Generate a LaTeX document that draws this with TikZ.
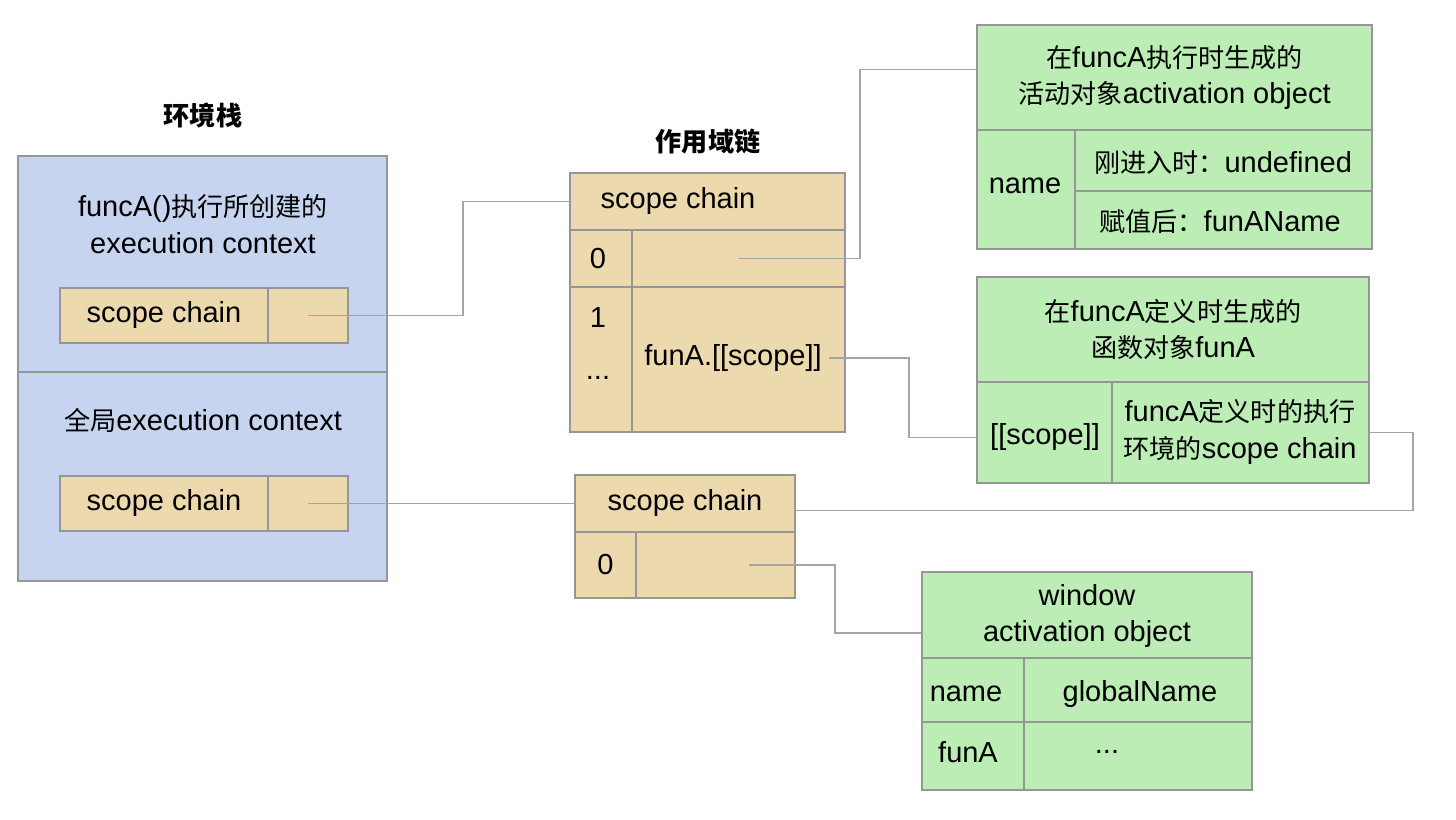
\documentclass[tikz,border=0pt]{standalone}
\usepackage{fontspec}
\setmainfont{Liberation Sans}
\newfontfamily\cjk[Scale=0.9]{Noto Sans CJK SC}
\usepackage{xcolor}
\usetikzlibrary{positioning,fit}
\definecolor{stackblue}{RGB}{198,212,240}
\definecolor{chaintan}{RGB}{237,217,174}
\definecolor{objgreen}{RGB}{187,237,181}
\definecolor{edgegray}{RGB}{150,150,150}
\definecolor{linkgray}{RGB}{165,165,165}

\begin{document}
\begin{tikzpicture}[x=0.02cm, y=-0.02cm,
        cell/.style={draw=edgegray, line width=0.8pt, inner sep=0pt},
        blue/.style={cell, fill=stackblue},
        tan/.style={cell, fill=chaintan},
        green/.style={cell, fill=objgreen},
        txt/.style={font=\fontsize{16.5}{21}\selectfont, align=center, inner sep=0pt},
        title/.style={txt, font=\fontsize{16.5}{21}\selectfont\bfseries},
        link/.style={draw=linkgray, line width=1pt}
      ]
      \useasboundingbox (0,0) rectangle (1456,820);

      \node[blue, fit={(18,156) (387,372)}] (ecA) {};
      \node[blue, fit={(18,372) (387,581)}] (ecG) {};
      \node[title] (stacktitle) at (203,116) {\cjk 环境栈};
      \node[txt] (ecAtext) at (203,224) {funcA(){\cjk 执行所创建的}\\execution context};
      \node[txt] (ecGtext) at (203,420) {{\cjk 全局}execution context};
      \node[tan, fit={(60,288) (268,343)}] (ecAkey) {};
      \node[tan, fit={(268,288) (348,343)}] (ecAval) {};
      \node[txt] at (ecAkey.center) {scope chain};
      \node[tan, fit={(60,476) (268,531)}] (ecGkey) {};
      \node[tan, fit={(268,476) (348,531)}] (ecGval) {};
      \node[txt] at (ecGkey.center) {scope chain};

      \node[title] (chaintitle) at (708,142) {\cjk 作用域链};
      \node[tan, fit={(570,173) (845,230)}] (chainA) {};
      \node[txt] at (678,201) {scope chain};
      \node[tan, fit={(570,230) (632,287)}] (chainAi0) {};
      \node[tan, fit={(632,230) (845,287)}] (chainAv0) {};
      \node[tan, fit={(570,287) (632,432)}] (chainAi1) {};
      \node[tan, fit={(632,287) (845,432)}] (chainAv1) {};
      \node[txt] at (598,259) {0};
      \node[txt] at (598,318) {1};
      \node[txt] at (598,378) {...};
      \node[txt] (funAscope) at (733,358) {funA.[[scope]]};

      \node[tan, fit={(575,475) (795,532)}] (chainG) {};
      \node[txt] at (685,503) {scope chain};
      \node[tan, fit={(575,532) (636,598)}] (chainGi0) {};
      \node[tan, fit={(636,532) (795,598)}] (chainGv0) {};
      \node[txt] at (chainGi0.center) {0};

      \node[green, fit={(977,25) (1372,130)}] (aoA) {};
      \node[txt] at (aoA.center) {{\cjk 在}funcA{\cjk 执行时生成的}\\{\cjk 活动对象}activation object};
      \node[green, fit={(977,130) (1075,249)}] (aoAkey) {};
      \node[green, fit={(1075,130) (1372,191)}] (aoAv1) {};
      \node[green, fit={(1075,191) (1372,249)}] (aoAv2) {};
      \node[txt] at (1025,186) {name};
      \node[txt] at (1223,163) {{\cjk 刚进入时：}undefined};
      \node[txt] at (1220,222) {{\cjk 赋值后：}funAName};

      \node[green, fit={(977,277) (1369,382)}] (fnA) {};
      \node[txt] at (fnA.center) {{\cjk 在}funcA{\cjk 定义时生成的}\\{\cjk 函数对象}funA};
      \node[green, fit={(977,382) (1112,483)}] (fnAkey) {};
      \node[green, fit={(1112,382) (1369,483)}] (fnAval) {};
      \node[txt] at (1045,437) {[[scope]]};
      \node[txt] at (1240,432) {funcA{\cjk 定义时的执行}\\{\cjk 环境的}scope chain};

      \node[green, fit={(922,572) (1252,658)}] (win) {};
      \node[txt] at (1087,616) {window\\activation object};
      \node[green, fit={(922,658) (1024,722)}] (wink1) {};
      \node[green, fit={(1024,658) (1252,722)}] (winv1) {};
      \node[green, fit={(922,722) (1024,790)}] (wink2) {};
      \node[green, fit={(1024,722) (1252,790)}] (winv2) {};
      \node[txt] at (966,694) {name};
      \node[txt] at (1140,694) {globalName};
      \node[txt] at (968,752) {funA};
      \node[txt] at (1107,752) {...};

      \coordinate (bendA) at (463,0);
      \coordinate (bend0) at (860,0);
      \coordinate (bend1) at (909,0);
      \coordinate (bendS) at (1413,0);
      \coordinate (bendW) at (835,0);

      \draw[link] (ecAval.center) -- (ecAval.center -| bendA) |- (chainA.west);
      \draw[link] (ecGval.center) -- (chainG.west);
      \draw[link] (chainAv0.center) -- (chainAv0.center -| bend0) |- ([yshift=0.16cm]aoA.west);
      \draw[link] ([xshift=0.15cm]funAscope.east) -- (funAscope.east -| bend1) |- ([yshift=-0.1cm]fnAkey.west);
      \draw[link] (fnAval.east) -- (fnAval.east -| bendS) |- ([yshift=-0.14cm]chainG.east);
      \draw[link] ([xshift=0.66cm]chainGv0.center) -- (chainGv0.center -| bendW) |- ([yshift=-0.36cm]win.west);
    \end{tikzpicture}
\end{document}
